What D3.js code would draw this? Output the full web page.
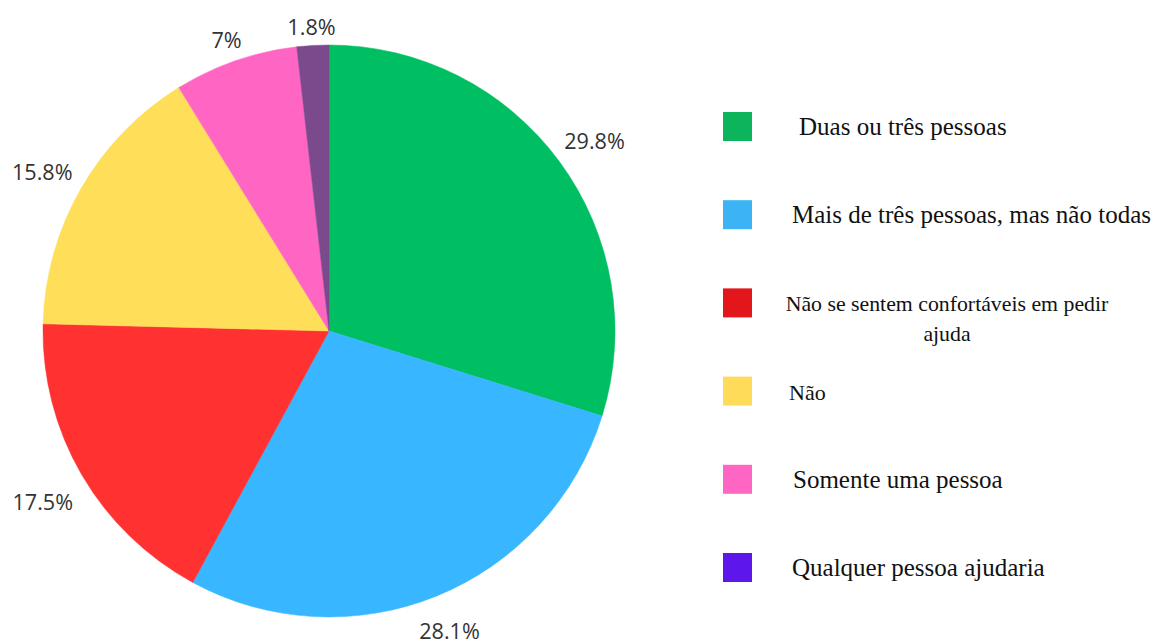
<!DOCTYPE html>
<html>
<head>
<meta charset="utf-8">
<script src="https://cdn.jsdelivr.net/npm/d3@7"></script>
<style>
  html, body { margin: 0; padding: 0; background: #fff; }
  svg { display: block; }
</style>
</head>
<body>
<div id="pie_chart"></div>
<script>
var svgSelector = "#pie_chart";
var default_width = 1157;
var default_height = 644;

// data
var categories = ["Duas ou três pessoas", "Mais de três pessoas, mas não todas",
    "Não se sentem confortáveis em pedir ajuda", "Não", "Somente uma pessoa", "Qualquer pessoa ajudaria"];
var values = [29.8, 28.1, 17.5, 15.8, 7, 1.8];
var valueLabels = ["29.8%", "28.1%", "17.5%", "15.8%", "7%", "1.8%"];
var legendLines = [["Duas ou três pessoas"], ["Mais de três pessoas, mas não todas"],
    ["Não se sentem confortáveis em pedir", "ajuda"], ["Não"], ["Somente uma pessoa"], ["Qualquer pessoa ajudaria"]];

// styles
var sliceColors = ["#00bf63", "#38b6ff", "#ff3131", "#ffde59", "#ff66c4", "#7b4a8c"];
var legendColors = ["#0cb55b", "#3bb3f4", "#e3161c", "#fedc5a", "#ff66c4", "#5d17eb"];
var legendFontSizes = [25, 25, 21.8, 22, 25, 25];
var legendTextX = [799, 792, 947, 789, 793, 792];

function drawPie(htmlSelector, w, h) {
    var svg = d3.select(htmlSelector).append("svg")
        .attr("width", w)
        .attr("height", h);

    var cx = 329, cy = 331, radius = 286;
    var g = svg.append("g").attr("transform", "translate(" + cx + "," + cy + ")");

    var rows = categories.map(function(c, i) {
        return {key: c, value: values[i], label: valueLabels[i], i: i};
    });

    var pie = d3.pie().sort(null).value(function(d) { return d.value; });
    var arc = d3.arc().innerRadius(0).outerRadius(radius);
    var arcs = pie(rows);

    g.selectAll("path.slice")
        .data(arcs)
        .enter().append("path")
            .attr("class", "slice")
            .attr("d", arc)
            .attr("fill", function(d) { return sliceColors[d.data.i]; })
            .attr("stroke", function(d) { return sliceColors[d.data.i]; })
            .attr("stroke-width", 0.5);

    // percentage labels outside the slices
    var gap = 14, halfH = 9, fontPx = 21.6;
    var maxBaseline = h - cy - 5;
    g.selectAll("text.pct")
        .data(arcs)
        .enter().append("text")
            .attr("class", "pct")
            .style("font-family", "'Open Sans', sans-serif")
            .style("font-size", fontPx + "px")
            .attr("fill", "#333")
            .attr("text-anchor", "middle")
            .attr("dy", "0.62em")
            .text(function(d) { return d.data.label; })
            .each(function(d) {
                var a = (d.startAngle + d.endAngle) / 2;
                var s = Math.sin(a), c = -Math.cos(a);
                var halfW = this.getBBox().width / 2;
                var dist = radius + gap + halfW * Math.abs(s) + halfH * Math.abs(c);
                var y = Math.min(dist * c, maxBaseline - 0.62 * fontPx);
                d3.select(this)
                    .attr("x", dist * s)
                    .attr("y", y);
            });

    // legend
    var legend = svg.append("g")
        .style("font-family", "'Liberation Serif', 'DejaVu Serif', serif")
        .attr("fill", "#111")
        .selectAll("g")
        .data(rows)
        .enter().append("g")
            .attr("transform", function(d, i) {
                return "translate(0," + (112 + i * 88.2) + ")";
            });

    legend.append("rect")
        .attr("x", 723)
        .attr("width", 29)
        .attr("height", 29)
        .attr("fill", function(d) { return legendColors[d.i]; });

    legend.append("text")
        .style("font-family", "'Liberation Serif', 'DejaVu Serif', serif")
        .style("font-size", function(d) { return legendFontSizes[d.i] + "px"; })
        .attr("text-anchor", function(d) { return legendLines[d.i].length > 1 ? "middle" : "start"; })
        .each(function(d) {
            var t = d3.select(this);
            legendLines[d.i].forEach(function(line, k) {
                t.append("tspan")
                    .attr("x", legendTextX[d.i])
                    .attr("y", 23 + k * 30)
                    .text(line);
            });
        });
}

drawPie(svgSelector, default_width, default_height);
</script>
</body>
</html>
